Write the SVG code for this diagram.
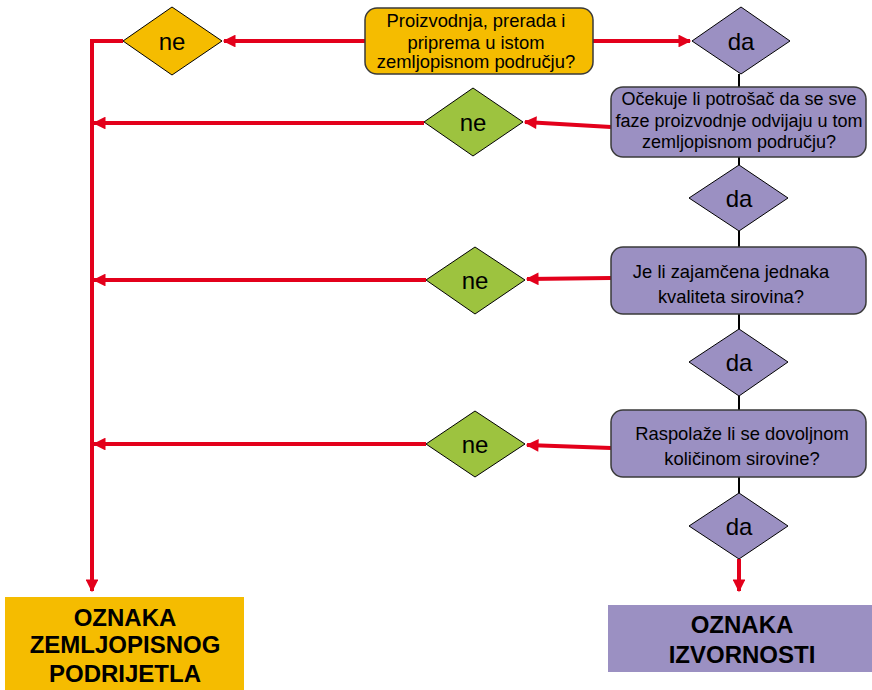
<svg xmlns="http://www.w3.org/2000/svg" width="872" height="690" viewBox="0 0 872 690">
<style>
.t{font-family:"Liberation Sans",Arial,sans-serif;fill:#000;text-anchor:middle}
.q{font-size:18.4px}
.d{font-size:24px}
.b{font-size:24px;font-weight:bold}
.yel{fill:#F5BC00}
.pur{fill:#9B90C2}
.grn{fill:#9DC33F}
.box{stroke:#3a3a3a;stroke-width:1.5}
.dia{stroke:#000;stroke-width:1}
.red{stroke:#E3001B;stroke-width:4;fill:none}
.blk{stroke:#000;stroke-width:2;fill:none}
</style>
<defs>
<marker id="ah" viewBox="0 0 10 10" refX="9" refY="5" markerWidth="3.6" markerHeight="3.2" orient="auto" markerUnits="strokeWidth">
<path d="M0,0 L10,5 L0,10 z" fill="#E3001B"/>
</marker>
</defs>
<g id="connectors">
<line class="red" x1="365" y1="41" x2="224" y2="41" marker-end="url(#ah)"/>
<line class="red" x1="593" y1="41" x2="690" y2="41" marker-end="url(#ah)"/>
<polyline class="red" points="123,41 92,41 92,591" marker-end="url(#ah)"/>
<line class="red" x1="424" y1="123" x2="94" y2="123" marker-end="url(#ah)"/>
<line class="red" x1="426" y1="280" x2="94" y2="280" marker-end="url(#ah)"/>
<line class="red" x1="426" y1="444" x2="94" y2="444" marker-end="url(#ah)"/>
<line class="red" x1="611" y1="127" x2="525" y2="122" marker-end="url(#ah)"/>
<line class="red" x1="611" y1="278" x2="527" y2="279" marker-end="url(#ah)"/>
<line class="red" x1="611" y1="448" x2="527" y2="445" marker-end="url(#ah)"/>
<line class="red" x1="739" y1="559" x2="739" y2="591" marker-end="url(#ah)"/>
<line class="blk" x1="739" y1="74" x2="739" y2="87"/>
<line class="blk" x1="739" y1="157" x2="739" y2="165"/>
<line class="blk" x1="739" y1="231" x2="739" y2="247"/>
<line class="blk" x1="739" y1="314" x2="739" y2="329"/>
<line class="blk" x1="739" y1="396" x2="739" y2="410"/>
<line class="blk" x1="739" y1="477" x2="739" y2="493"/>
</g>
<g id="q1">
<rect class="yel box" x="365" y="8" width="228" height="66" rx="12"/>
<text class="t q" x="476" y="27">Proizvodnja, prerada i</text>
<text class="t q" x="476" y="48.5">priprema u istom</text>
<text class="t q" x="476" y="68">zemljopisnom području?</text>
</g>
<g id="ne1">
<polygon class="yel dia" points="123,41 172,7 222,41 172,75"/>
<text class="t d" x="172" y="49.5">ne</text>
</g>
<g id="da1">
<polygon class="pur dia" points="692,41 741,7 790,41 741,74"/>
<text class="t d" x="741" y="49.5">da</text>
</g>
<g id="q2">
<rect class="pur box" x="611" y="87" width="255" height="70" rx="12"/>
<text class="t" style="font-size:18px" x="739" y="105">Očekuje li potrošač da se sve</text>
<text class="t" style="font-size:18px" x="739" y="127">faze proizvodnje odvijaju u tom</text>
<text class="t" style="font-size:18px" x="739" y="148">zemljopisnom području?</text>
</g>
<g id="ne2">
<polygon class="grn dia" points="424,122 473,88 523,122 473,156"/>
<text class="t d" x="473" y="130.5">ne</text>
</g>
<g id="da2">
<polygon class="pur dia" points="689,198 739,165 788,198 739,231"/>
<text class="t d" x="739" y="206.5">da</text>
</g>
<g id="q3">
<rect class="pur box" x="611" y="247" width="255" height="67" rx="12"/>
<text class="t q" x="731" y="278">Je li zajamčena jednaka</text>
<text class="t q" x="731" y="303">kvaliteta sirovina?</text>
</g>
<g id="ne3">
<polygon class="grn dia" points="426,280 475,247 525,280 475,314"/>
<text class="t d" x="475" y="288.5">ne</text>
</g>
<g id="da3">
<polygon class="pur dia" points="689,362 739,329 788,362 739,396"/>
<text class="t d" x="739" y="370.5">da</text>
</g>
<g id="q4">
<rect class="pur box" x="611" y="410" width="255" height="67" rx="12"/>
<text class="t q" x="742" y="440">Raspolaže li se dovoljnom</text>
<text class="t q" x="742" y="465">količinom sirovine?</text>
</g>
<g id="ne4">
<polygon class="grn dia" points="426,444 475,411 525,444 475,477"/>
<text class="t d" x="475" y="452.5">ne</text>
</g>
<g id="da4">
<polygon class="pur dia" points="689,526 739,493 788,526 739,559"/>
<text class="t d" x="739" y="534.5">da</text>
</g>
<g id="zemljopisno">
<rect class="yel" x="5" y="597" width="239" height="93"/>
<text class="t b" x="125" y="626">OZNAKA</text>
<text class="t b" x="125" y="653">ZEMLJOPISNOG</text>
<text class="t b" x="125" y="682">PODRIJETLA</text>
</g>
<g id="izvornost">
<rect class="pur" x="608" y="605" width="264" height="67"/>
<text class="t b" x="742" y="633">OZNAKA</text>
<text class="t b" x="742" y="663">IZVORNOSTI</text>
</g>
</svg>
